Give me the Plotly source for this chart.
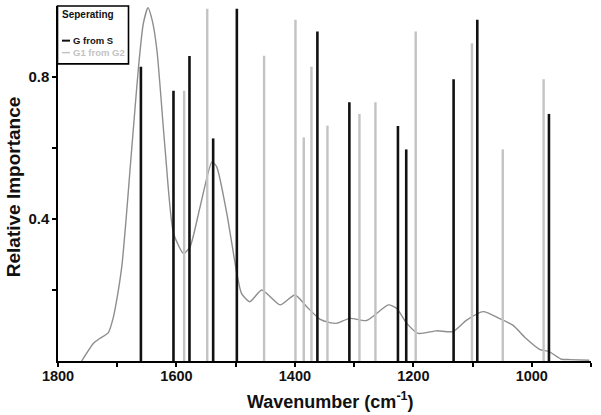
import plotly.graph_objects as go

# ---- data ----
spec_wn = [1760, 1740, 1729, 1715, 1707, 1700, 1692, 1685, 1678, 1671, 1664, 1656, 1648, 1641, 1633,
           1619, 1605, 1588, 1577, 1560, 1540, 1532, 1515, 1498, 1490, 1476, 1456, 1425,
           1400, 1380, 1358, 1341, 1330, 1307, 1279, 1242, 1228, 1211, 1192, 1161, 1133,
           1110, 1082, 1055, 1032, 1010, 987, 970, 950, 936, 903]
spec_val = [0.0, 0.05, 0.064, 0.08, 0.12, 0.18, 0.27, 0.40, 0.547, 0.69, 0.829, 0.95, 0.995, 0.96, 0.876,
            0.594, 0.36, 0.303, 0.322, 0.435, 0.561, 0.547, 0.416, 0.247, 0.19, 0.167, 0.2, 0.158,
            0.186, 0.153, 0.118, 0.108, 0.106, 0.12, 0.114, 0.158, 0.148, 0.106, 0.078, 0.085, 0.083,
            0.115, 0.139, 0.12, 0.101, 0.064, 0.033, 0.026, 0.005, 0.004, 0.002]

gs_wn = [1660, 1605, 1578, 1538, 1498, 1362, 1308, 1226, 1212, 1132, 1092, 971]
gs_val = [0.829, 0.761, 0.859, 0.627, 0.992, 0.928, 0.729, 0.662, 0.596, 0.794, 0.961, 0.696]

g12_wn = [1587, 1548, 1452, 1399, 1385, 1372, 1345, 1291, 1264, 1196, 1101, 1049, 980]
g12_val = [0.761, 0.992, 0.860, 0.961, 0.630, 0.829, 0.663, 0.696, 0.729, 0.928, 0.895, 0.596, 0.794]

x_ticks = [1800, 1700, 1600, 1500, 1400, 1300, 1200, 1100, 1000, 900]
x_ticklabels = ["1800", "", "1600", "", "1400", "", "1200", "", "1000", ""]
y_ticks = [0.2, 0.4, 0.6, 0.8]
y_ticklabels = ["", "0.4", "", "0.8"]

x_title = "Wavenumber (cm<sup>-1</sup>)"
y_title = "Relative Importance"
legend_title = "Seperating"
name_gs = "G from S"
name_g12 = "G1 from G2"


def stems(xs, ys):
    sx, sy = [], []
    for x, y in zip(xs, ys):
        sx += [x, x, None]
        sy += [0, y, None]
    return sx, sy


FONT = "Liberation Sans, Arial, sans-serif"
BLACK = "#111111"
LIGHT = "#c3c3c3"
CURVE = "#8e8e8e"

fig = go.Figure()
fig.add_trace(go.Scatter(x=spec_wn, y=spec_val, mode="lines",
                         line=dict(color=CURVE, width=1.4, shape="spline", smoothing=0.6),
                         showlegend=False, hoverinfo="skip"))
gx, gy = stems(g12_wn, g12_val)
fig.add_trace(go.Scatter(x=gx, y=gy, mode="lines", name=name_g12,
                         line=dict(color=LIGHT, width=2.4), showlegend=False))
bx, by = stems(gs_wn, gs_val)
fig.add_trace(go.Scatter(x=bx, y=by, mode="lines", name=name_gs,
                         line=dict(color=BLACK, width=2.6), showlegend=False))

W, H = 601, 415
L, R, T, B = 58, 10, 6, 53.5
pw, ph = W - L - R, H - T - B


def px(x):
    return (x - L) / pw


def py(y):
    return (H - B - y) / ph


# manual legend
shapes = [
    dict(type="rect", xref="paper", yref="paper", x0=px(57.5), x1=px(128.5), y0=py(64), y1=py(6),
         line=dict(color="black", width=1.6), fillcolor="white", layer="above"),
    dict(type="line", xref="paper", yref="paper", x0=px(62), x1=px(70), y0=py(40.7), y1=py(40.7),
         line=dict(color=BLACK, width=2)),
    dict(type="line", xref="paper", yref="paper", x0=px(62), x1=px(70), y0=py(52.7), y1=py(52.7),
         line=dict(color=LIGHT, width=1.5)),
]
annotations = [
    dict(text=legend_title, xref="paper", yref="paper", x=px(59.5), y=py(15), xanchor="left",
         yanchor="middle", showarrow=False, font=dict(family=FONT, size=10, color=BLACK, weight="bold")),
    dict(text=name_gs, xref="paper", yref="paper", x=px(71), y=py(40.7), xanchor="left",
         yanchor="middle", showarrow=False, font=dict(family=FONT, size=9.5, color=BLACK, weight="bold")),
    dict(text=name_g12, xref="paper", yref="paper", x=px(71), y=py(52.7), xanchor="left",
         yanchor="middle", showarrow=False, font=dict(family=FONT, size=9.5, color=LIGHT, weight="bold")),
    dict(text=x_title, xref="paper", yref="paper", x=px(330), y=py(401), xanchor="center",
         yanchor="middle", showarrow=False, font=dict(family=FONT, size=18, color=BLACK, weight="bold")),
    dict(text=y_title, xref="paper", yref="paper", x=px(13.5), y=py(187), xanchor="center",
         yanchor="middle", textangle=-90, showarrow=False,
         font=dict(family=FONT, size=19, color=BLACK, weight="bold")),
]

fig.update_layout(
    width=W, height=H,
    margin=dict(l=L, r=R, t=T, b=B, pad=0),
    paper_bgcolor="white", plot_bgcolor="white",
    shapes=shapes, annotations=annotations,
    xaxis=dict(range=[1800, 900], tickmode="array", tickvals=x_ticks, ticktext=x_ticklabels,
               ticks="outside", ticklen=4, tickwidth=1.5, tickcolor="black", automargin=False,
               ticklabelstandoff=-3,
               showline=True, linecolor="black", linewidth=1.5, showgrid=False, zeroline=False,
               tickfont=dict(family=FONT, size=14.5, color=BLACK, weight="bold")),
    yaxis=dict(range=[0, 1.0], tickmode="array", tickvals=y_ticks, ticktext=y_ticklabels,
               ticks="outside", ticklen=4, tickwidth=1.5, tickcolor="black", automargin=False,
               showline=True, linecolor="black", linewidth=1.5, showgrid=False, zeroline=False,
               tickfont=dict(family=FONT, size=15, color=BLACK, weight="bold")),
)

fig.write_html("out.html", config={"displayModeBar": False},
               post_script="document.body.style.margin='0px';")
